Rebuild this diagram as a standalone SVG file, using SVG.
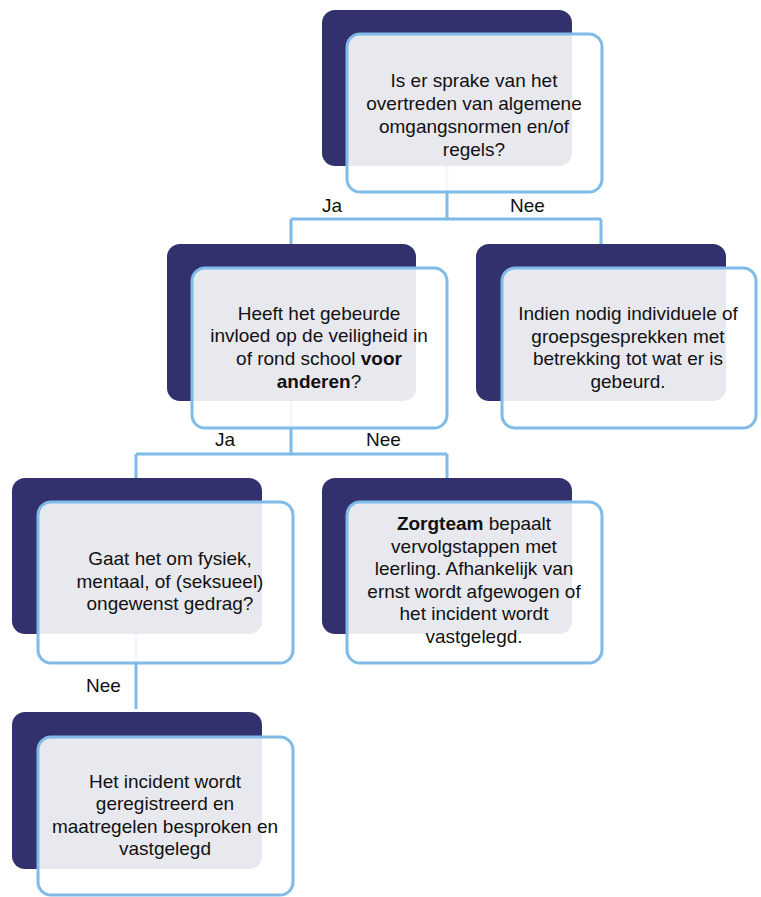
<svg xmlns="http://www.w3.org/2000/svg" width="761" height="897" viewBox="0 0 761 897">
<style>
.back{fill:#33306e}
.front{fill:#ffffff;fill-opacity:0.89;stroke:#7fbbe8;stroke-width:3}
.conn{fill:none;stroke:#7fbbe8;stroke-width:3}
text{font-family:"Liberation Sans",Arial,sans-serif;font-size:19px;fill:#111111}
.t{text-anchor:middle}
.b{font-weight:bold}
</style>
<rect width="761" height="897" fill="#ffffff"/>
<g id="connectors">
<path class="conn" d="M447,160 V219 M291,219 H601 M291,219 V246 M601,219 V246"/>
<path class="conn" d="M291,395 V454 M136,454 H447 M136,454 V480 M447,454 V480"/>
<path class="conn" d="M136,630 V709"/>
<text x="322" y="212">Ja</text>
<text x="510" y="212">Nee</text>
<text x="215" y="446">Ja</text>
<text x="366" y="446">Nee</text>
<text x="86" y="692">Nee</text>
</g>
<g id="node1">
<rect class="back" x="322" y="10" width="250" height="156" rx="13"/>
<rect class="front" x="347" y="34" width="255" height="158" rx="13"/>
<text class="t" x="474" y="87">Is er sprake van het</text>
<text class="t" x="474" y="110">overtreden van algemene</text>
<text class="t" x="474" y="133">omgangsnormen en/of</text>
<text class="t" x="474" y="156">regels?</text>
</g>
<g id="node2">
<rect class="back" x="167" y="244" width="249" height="157" rx="13"/>
<rect class="front" x="192" y="268" width="255" height="160" rx="13"/>
<text class="t" x="319" y="320">Heeft het gebeurde</text>
<text class="t" x="319" y="342">invloed op de veiligheid in</text>
<text class="t" x="319" y="365">of rond school <tspan class="b">voor</tspan></text>
<text class="t" x="319" y="388"><tspan class="b">anderen</tspan>?</text>
</g>
<g id="node3">
<rect class="back" x="476" y="244" width="250" height="157" rx="13"/>
<rect class="front" x="502" y="268" width="254" height="160" rx="13"/>
<text class="t" x="628" y="320">Indien nodig individuele of</text>
<text class="t" x="628" y="343">groepsgesprekken met</text>
<text class="t" x="628" y="365">betrekking tot wat er is</text>
<text class="t" x="628" y="388">gebeurd.</text>
</g>
<g id="node4">
<rect class="back" x="12" y="478" width="250" height="156" rx="13"/>
<rect class="front" x="38" y="502" width="255" height="161" rx="13"/>
<text class="t" x="170" y="565">Gaat het om fysiek,</text>
<text class="t" x="170" y="588">mentaal, of (seksueel)</text>
<text class="t" x="170" y="610">ongewenst gedrag?</text>
</g>
<g id="node5">
<rect class="back" x="322" y="478" width="250" height="156" rx="13"/>
<rect class="front" x="347" y="502" width="255" height="161" rx="13"/>
<text class="t" x="474" y="530"><tspan class="b">Zorgteam</tspan> bepaalt</text>
<text class="t" x="474" y="553">vervolgstappen met</text>
<text class="t" x="474" y="575">leerling. Afhankelijk van</text>
<text class="t" x="474" y="598">ernst wordt afgewogen of</text>
<text class="t" x="474" y="620">het incident wordt</text>
<text class="t" x="474" y="643">vastgelegd.</text>
</g>
<g id="node6">
<rect class="back" x="12" y="712" width="250" height="157" rx="13"/>
<rect class="front" x="38" y="737" width="255" height="158" rx="13"/>
<text class="t" x="165" y="788">Het incident wordt</text>
<text class="t" x="165" y="810">geregistreerd en</text>
<text class="t" x="165" y="833">maatregelen besproken en</text>
<text class="t" x="165" y="855">vastgelegd</text>
</g>
</svg>
